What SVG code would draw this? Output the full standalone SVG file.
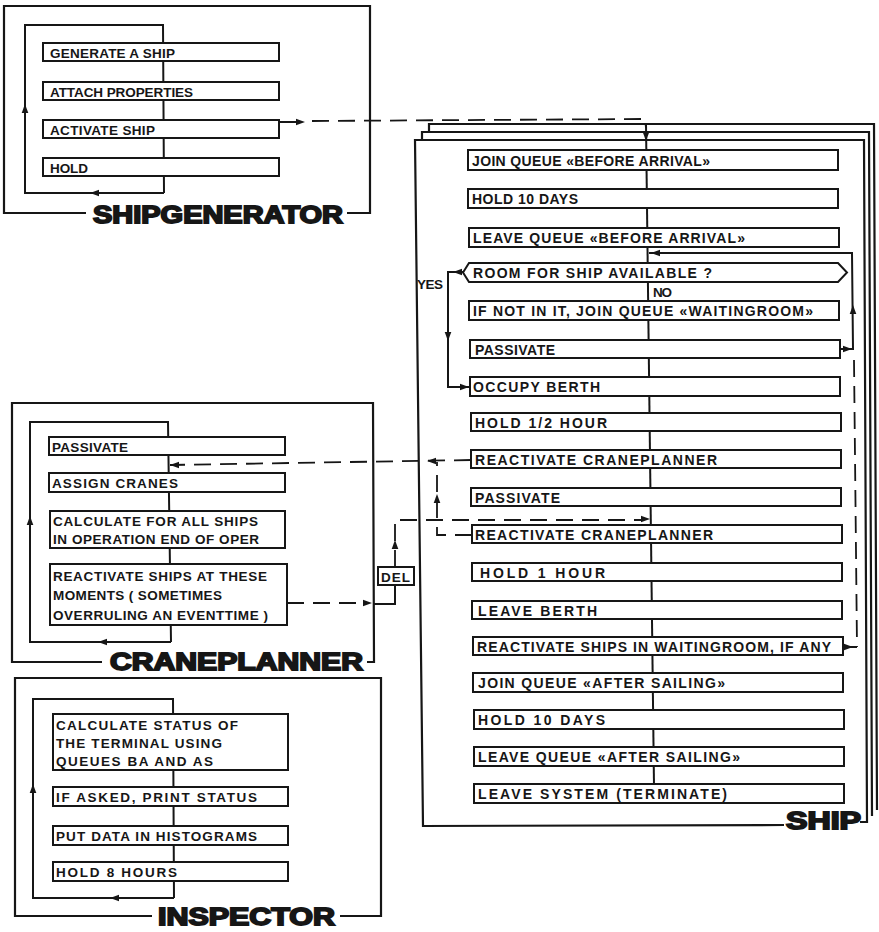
<svg xmlns="http://www.w3.org/2000/svg" xmlns:xlink="http://www.w3.org/1999/xlink" width="879" height="932" viewBox="0 0 879 932">
<defs>
<style>
.ln{fill:none;stroke:#161616;stroke-width:2;stroke-linejoin:miter}
.fr{fill:none;stroke:#161616;stroke-width:2.2}
.ds{fill:none;stroke:#161616;stroke-width:1.8;stroke-dasharray:17 9}
.bx{fill:#fff;stroke:#161616;stroke-width:2}
.t{font-family:"Liberation Sans",Arial,sans-serif;font-weight:bold;font-size:13.5px;fill:#161616}
.ts{font-family:"Liberation Sans",Arial,sans-serif;font-weight:bold;font-size:14px;fill:#161616}
.ti{font-family:"Liberation Sans",Arial,sans-serif;font-weight:bold;font-size:23.5px;fill:#161616;stroke:#161616;stroke-width:1.8}
</style>
<path id="ah" d="M0,0 L-9,-3.3 L-9,3.3 Z" fill="#161616"/>
</defs>
<rect width="879" height="932" fill="#fff"/>

<!-- SHIPGENERATOR -->
<g id="shipgenerator">
<path class="fr" d="M 86 213 H 4 V 6 H 370 V 213 H 347"/>
<text class="ti" x="93" y="223" textLength="250" lengthAdjust="spacingAndGlyphs">SHIPGENERATOR</text>
</g>
<!-- CRANEPLANNER -->
<g id="craneplanner">
<path class="fr" d="M 102 662 H 12 V 403 H 373 L 374 662 H 367"/>
<text class="ti" x="110" y="670" textLength="253" lengthAdjust="spacingAndGlyphs">CRANEPLANNER</text>
</g>
<!-- INSPECTOR -->
<g id="inspector">
<path class="fr" d="M 152 916 H 15 V 678 H 381 V 916 H 340"/>
<text class="ti" x="158" y="925" textLength="177" lengthAdjust="spacingAndGlyphs">INSPECTOR</text>
</g>
<!-- SHIP (stacked frames) -->
<g id="ship">
<path class="fr" d="M 429 133 V 124 H 874 L 877 810"/>
<path class="fr" d="M 422 140 V 132 H 869 L 872 816"/>
<path class="fr" d="M 784 825 L 423 826 L 415 140 H 864 L 867 822 H 860"/>
<text class="ti" x="786" y="829" textLength="75" lengthAdjust="spacingAndGlyphs">SHIP</text>
</g>

<g id="connectors">
<!-- process loops / spines -->
<path class="ln" d="M 164 193 H 25 V 25 H 163 L 164 193"/>
<path class="ln" d="M 171 642 H 30 V 422 H 168 L 171 642"/>
<path class="ln" d="M 174 898 H 33 V 699 H 173 L 174 898"/>
<path class="ln" d="M 646 124 L 654 786"/>
<!-- loop arrows -->
<use href="#ah" transform="translate(90,193) rotate(180)"/>
<use href="#ah" transform="translate(25,104) rotate(-90)"/>
<use href="#ah" transform="translate(98,642) rotate(180)"/>
<use href="#ah" transform="translate(30,516) rotate(-90)"/>
<use href="#ah" transform="translate(110,898) rotate(180)"/>
<use href="#ah" transform="translate(33,784) rotate(-90)"/>
<!-- activate ship -->
<path class="ln" d="M 279 122 H 298"/>
<use href="#ah" transform="translate(305,122)"/>
<path class="ds" d="M 312 121 L 645 119 L 646 128"/>
<use href="#ah" transform="translate(646,141) rotate(90)"/>
<!-- waiting-room loop -->
<path class="ln" d="M 840 349 H 853 L 852 253 H 649"/>
<use href="#ah" transform="translate(852,349)"/>
<use href="#ah" transform="translate(853,305) rotate(-90)"/>
<use href="#ah" transform="translate(651,253) rotate(180)"/>
<path class="ds" d="M 854 360 L 857 647"/>
<path class="ln" d="M 843 647 H 857"/>
<use href="#ah" transform="translate(853,647)"/>
<!-- YES branch -->
<path class="ln" d="M 463 272 H 448 V 387 H 470"/>
<use href="#ah" transform="translate(453,272) rotate(180)"/>
<use href="#ah" transform="translate(448,341) rotate(90)"/>
<use href="#ah" transform="translate(469,387)"/>
<!-- reactivate craneplanner -->
<path class="ds" d="M 471 460 L 170 465"/>
<use href="#ah" transform="translate(427,461) rotate(180)"/>
<use href="#ah" transform="translate(170,465) rotate(180)"/>
<path class="ds" d="M 472 535 H 437 V 462"/>
<use href="#ah" transform="translate(437,494) rotate(-90)"/>
<!-- reactivate ships via DEL -->
<path class="ds" d="M 287 603 H 365"/>
<use href="#ah" transform="translate(372,603)"/>
<path class="ln" d="M 374 604 H 395 V 585"/>
<path class="ds" d="M 395 567 V 520 H 641"/>
<use href="#ah" transform="translate(395,540) rotate(-90)"/>
<use href="#ah" transform="translate(650,519)"/>
</g>

<!-- SHIPGENERATOR steps -->
<g id="sg1"><rect class="bx" x="43" y="43" width="236" height="18"/><text class="t" x="50" y="57.5" textLength="125">GENERATE A SHIP</text></g>
<g id="sg2"><rect class="bx" x="43" y="82" width="236" height="18"/><text class="t" x="50" y="96.5" textLength="143">ATTACH PROPERTIES</text></g>
<g id="sg3"><rect class="bx" x="43" y="120" width="236" height="18"/><text class="t" x="50" y="134.5" textLength="105">ACTIVATE SHIP</text></g>
<g id="sg4"><rect class="bx" x="43" y="158" width="236" height="18"/><text class="t" x="50" y="172.5" textLength="38">HOLD</text></g>

<!-- CRANEPLANNER steps -->
<g id="cp1"><rect class="bx" x="49" y="437" width="236" height="18"/><text class="t" x="52" y="451.5" textLength="76">PASSIVATE</text></g>
<g id="cp2"><rect class="bx" x="49" y="473" width="236" height="19"/><text class="t" x="52" y="488" textLength="126">ASSIGN CRANES</text></g>
<g id="cp3"><rect class="bx" x="50" y="511" width="235" height="37"/><text class="t" x="53" y="526" textLength="205">CALCULATE FOR ALL SHIPS</text><text class="t" x="53" y="544" textLength="206">IN OPERATION END OF OPER</text></g>
<g id="cp4"><rect class="bx" x="50" y="564" width="237" height="61"/><text class="t" x="53" y="581" textLength="214">REACTIVATE SHIPS AT THESE</text><text class="t" x="53" y="600" textLength="169">MOMENTS ( SOMETIMES</text><text class="t" x="53" y="620" textLength="215">OVERRULING AN EVENTTIME )</text></g>
<g id="del"><rect class="bx" x="378" y="567" width="36" height="18"/><text class="t" x="381" y="581.5" textLength="29">DEL</text></g>

<!-- INSPECTOR steps -->
<g id="in1"><rect class="bx" x="53" y="714" width="235" height="56"/><text class="t" x="56" y="730" textLength="182">CALCULATE STATUS OF</text><text class="t" x="56" y="748" textLength="166">THE TERMINAL USING</text><text class="t" x="56" y="766" textLength="157">QUEUES BA AND AS</text></g>
<g id="in2"><rect class="bx" x="53" y="787" width="235" height="19"/><text class="t" x="56" y="802" textLength="201">IF ASKED, PRINT STATUS</text></g>
<g id="in3"><rect class="bx" x="53" y="826" width="235" height="19"/><text class="t" x="56" y="841" textLength="201">PUT DATA IN HISTOGRAMS</text></g>
<g id="in4"><rect class="bx" x="53" y="862" width="235" height="19"/><text class="t" x="56" y="877" textLength="121">HOLD 8 HOURS</text></g>

<!-- SHIP steps -->
<g id="s1"><rect class="bx" x="468" y="150" width="370" height="20"/><text class="ts" x="472" y="165.5" textLength="238">JOIN QUEUE «BEFORE ARRIVAL»</text></g>
<g id="s2"><rect class="bx" x="468" y="189" width="370" height="19"/><text class="ts" x="472" y="204" textLength="106">HOLD 10 DAYS</text></g>
<g id="s3"><rect class="bx" x="469" y="228" width="370" height="19"/><text class="ts" x="473" y="243" textLength="272">LEAVE QUEUE «BEFORE ARRIVAL»</text></g>
<g id="s4"><polygon class="bx" points="463,272.5 469,263 838,263 847,272.5 838,282 469,282"/><text class="ts" x="473" y="278" textLength="239">ROOM FOR SHIP AVAILABLE ?</text><text class="t" x="653" y="297" textLength="19">NO</text><text class="t" x="417" y="289" textLength="26">YES</text></g>
<g id="s5"><rect class="bx" x="469" y="301" width="370" height="19"/><text class="ts" x="473" y="316" textLength="340">IF NOT IN IT, JOIN QUEUE «WAITINGROOM»</text></g>
<g id="s6"><rect class="bx" x="470" y="340" width="370" height="18"/><text class="ts" x="475" y="354.5" textLength="80">PASSIVATE</text></g>
<g id="s7"><rect class="bx" x="470" y="377" width="370" height="19"/><text class="ts" x="473" y="392" textLength="127">OCCUPY BERTH</text></g>
<g id="s8"><rect class="bx" x="471" y="413" width="370" height="18"/><text class="ts" x="475" y="427.5" textLength="132">HOLD 1/2 HOUR</text></g>
<g id="s9"><rect class="bx" x="471" y="450" width="370" height="18"/><text class="ts" x="475" y="464.5" textLength="242">REACTIVATE CRANEPLANNER</text></g>
<g id="s10"><rect class="bx" x="471" y="488" width="370" height="18"/><text class="ts" x="475" y="502.5" textLength="85">PASSIVATE</text></g>
<g id="s11"><rect class="bx" x="472" y="525" width="370" height="18"/><text class="ts" x="475" y="539.5" textLength="238">REACTIVATE CRANEPLANNER</text></g>
<g id="s12"><rect class="bx" x="472" y="563" width="370" height="18"/><text class="ts" x="480" y="577.5" textLength="125">HOLD 1 HOUR</text></g>
<g id="s13"><rect class="bx" x="472" y="601" width="370" height="18"/><text class="ts" x="478" y="615.5" textLength="119">LEAVE BERTH</text></g>
<g id="s14"><rect class="bx" x="473" y="637" width="370" height="18"/><text class="ts" x="477" y="651.5" textLength="354">REACTIVATE SHIPS IN WAITINGROOM, IF ANY</text></g>
<g id="s15"><rect class="bx" x="473" y="673" width="370" height="19"/><text class="ts" x="478" y="688" textLength="247">JOIN QUEUE «AFTER SAILING»</text></g>
<g id="s16"><rect class="bx" x="474" y="710" width="370" height="19"/><text class="ts" x="478" y="725" textLength="127">HOLD 10 DAYS</text></g>
<g id="s17"><rect class="bx" x="474" y="747" width="370" height="19"/><text class="ts" x="478" y="762" textLength="262">LEAVE QUEUE «AFTER SAILING»</text></g>
<g id="s18"><rect class="bx" x="474" y="784" width="370" height="19"/><text class="ts" x="478" y="799" textLength="249">LEAVE SYSTEM (TERMINATE)</text></g>
</svg>
